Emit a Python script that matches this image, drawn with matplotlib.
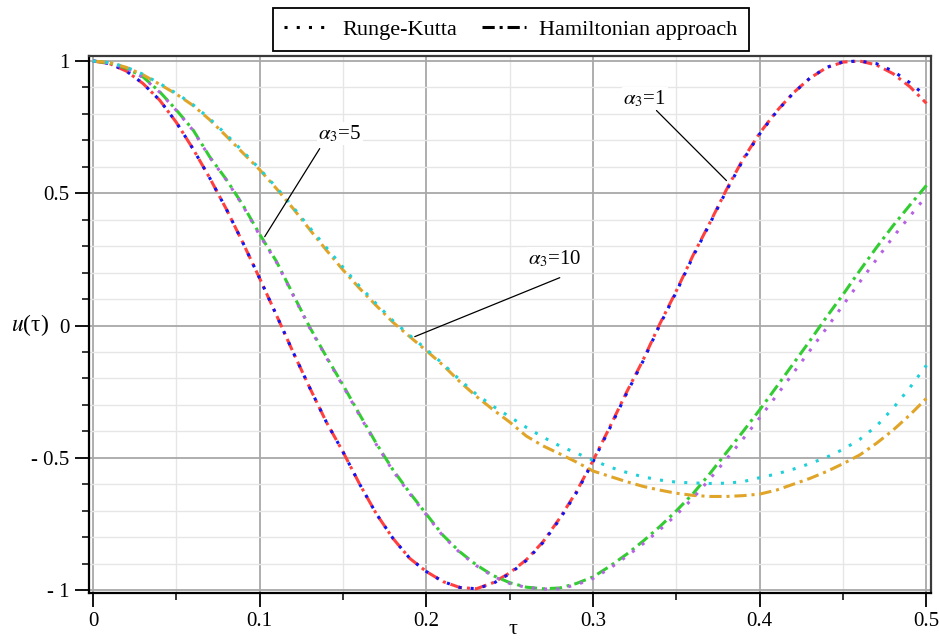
import numpy as np
import matplotlib
matplotlib.use('Agg')
import matplotlib.pyplot as plt
from matplotlib.lines import Line2D
from matplotlib.ticker import MultipleLocator

plt.rcParams['font.family'] = ['Liberation Serif', 'DejaVu Serif']
plt.rcParams['mathtext.fontset'] = 'stix'

# ── data ───────────────────────────────────────────────────────────────────────
TAU = [0.00, 0.01, 0.02, 0.03, 0.04, 0.05, 0.06, 0.07, 0.08, 0.09,
       0.10, 0.11, 0.12, 0.13, 0.14, 0.15, 0.16, 0.17, 0.18, 0.19,
       0.20, 0.21, 0.22, 0.23, 0.24, 0.25, 0.26, 0.27, 0.28, 0.29,
       0.30, 0.31, 0.32, 0.33, 0.34, 0.35, 0.36, 0.37, 0.38, 0.39,
       0.40, 0.41, 0.42, 0.43, 0.44, 0.45, 0.46, 0.47, 0.48, 0.49, 0.50]

# alpha3 = 1
HAM_A1 = [1.000, 0.990, 0.962, 0.915, 0.852, 0.768, 0.668, 0.558, 0.440, 0.312,
          0.178, 0.040, -0.100, -0.235, -0.365, -0.478, -0.600, -0.712, -0.805, -0.880,
          -0.930, -0.968, -0.990, -0.995, -0.972, -0.935, -0.885, -0.817, -0.728, -0.628,
          -0.510, -0.384, -0.253, -0.130, 0.006, 0.132, 0.266, 0.388, 0.514, 0.630,
          0.728, 0.810, 0.879, 0.935, 0.975, 0.996, 1.000, 0.985, 0.952, 0.903, 0.840]
RK_A1 = [1.000, 0.990, 0.962, 0.915, 0.852, 0.768, 0.668, 0.558, 0.440, 0.312,
         0.178, 0.040, -0.100, -0.235, -0.365, -0.478, -0.600, -0.712, -0.805, -0.880,
         -0.930, -0.968, -0.990, -0.995, -0.975, -0.938, -0.888, -0.820, -0.732, -0.632,
         -0.514, -0.388, -0.258, -0.134, 0.002, 0.128, 0.262, 0.385, 0.510, 0.626,
         0.725, 0.808, 0.878, 0.935, 0.976, 0.997, 1.000, 0.990, 0.962, 0.918, 0.866]

# alpha3 = 5
HAM_A5 = [1.000, 0.993, 0.973, 0.940, 0.884, 0.815, 0.740, 0.638, 0.552, 0.455,
          0.345, 0.243, 0.118, -0.006, -0.118, -0.225, -0.337, -0.446, -0.546, -0.632,
          -0.713, -0.793, -0.855, -0.905, -0.945, -0.972, -0.989, -0.995, -0.992, -0.975,
          -0.950, -0.910, -0.865, -0.815, -0.760, -0.700, -0.635, -0.560, -0.480, -0.400,
          -0.318, -0.232, -0.145, -0.058, 0.032, 0.118, 0.208, 0.295, 0.378, 0.455, 0.530]
RK_A5 = [1.000, 0.993, 0.972, 0.938, 0.882, 0.813, 0.738, 0.636, 0.550, 0.452,
         0.341, 0.240, 0.115, -0.009, -0.121, -0.229, -0.341, -0.450, -0.550, -0.636,
         -0.716, -0.796, -0.858, -0.908, -0.948, -0.975, -0.990, -0.996, -0.995, -0.980,
         -0.956, -0.918, -0.873, -0.825, -0.772, -0.715, -0.652, -0.580, -0.505, -0.428,
         -0.348, -0.265, -0.180, -0.095, -0.010, 0.078, 0.165, 0.250, 0.335, 0.413, 0.490]

# alpha3 = 10
HAM_A10 = [1.000, 0.994, 0.976, 0.948, 0.912, 0.875, 0.832, 0.778, 0.716, 0.652,
           0.589, 0.518, 0.443, 0.363, 0.285, 0.210, 0.140, 0.075, 0.012, -0.042,
           -0.095, -0.150, -0.212, -0.268, -0.318, -0.365, -0.418, -0.455, -0.485, -0.516,
           -0.550, -0.570, -0.590, -0.608, -0.622, -0.634, -0.642, -0.646, -0.646, -0.643,
           -0.637, -0.622, -0.600, -0.578, -0.552, -0.522, -0.489, -0.445, -0.395, -0.338,
           -0.275]
RK_A10 = [1.000, 0.994, 0.977, 0.950, 0.915, 0.878, 0.835, 0.782, 0.722, 0.658,
          0.592, 0.522, 0.448, 0.370, 0.295, 0.220, 0.148, 0.082, 0.018, -0.037,
          -0.090, -0.145, -0.205, -0.260, -0.305, -0.345, -0.385, -0.422, -0.455, -0.482,
          -0.509, -0.535, -0.555, -0.572, -0.584, -0.592, -0.595, -0.597, -0.596, -0.590,
          -0.575, -0.561, -0.543, -0.522, -0.498, -0.468, -0.430, -0.380, -0.312, -0.235,
          -0.150]

X_TICKS = [0, 0.1, 0.2, 0.3, 0.4, 0.5]
X_LABELS = ['0', '0.1', '0.2', '0.3', '0.4', '0.5']
Y_TICKS = [-1, -0.5, 0, 0.5, 1]
Y_LABELS = ['- 1', '- 0.5', '0', '0.5', '1']

DOT = (0, (1, 3))
DASHDOT = (0, (4, 1.6, 1, 1.6))

# ── plot ───────────────────────────────────────────────────────────────────────
fig = plt.figure(figsize=(9.39, 6.41), dpi=100)
ax = fig.add_axes([89 / 939, 48 / 641, 842 / 939, 537 / 641])

for ham, rk, c_ham, c_rk in [
    (HAM_A1, RK_A1, '#ff4040', '#1414f0'),
    (HAM_A5, RK_A5, '#33cc33', '#b563e3'),
    (HAM_A10, RK_A10, '#e0a528', '#1fd0d8'),
]:
    ax.plot(TAU, ham, color=c_ham, lw=2.2, ls=DASHDOT, zorder=3)
    ax.plot(TAU, rk, color=c_rk, lw=2.2, ls=DOT, zorder=4)

ax.set_xlim(-0.0024, 0.5027)
ax.set_ylim(-1.011, 1.019)
ax.set_xticks(X_TICKS)
ax.set_xticklabels(X_LABELS)
ax.set_yticks(Y_TICKS)
ax.set_yticklabels(Y_LABELS)
ax.xaxis.set_minor_locator(MultipleLocator(0.05))
ax.yaxis.set_minor_locator(MultipleLocator(0.1))
ax.tick_params(which='major', direction='out', length=10, width=1.3, labelsize=15, pad=4)
ax.tick_params(which='minor', direction='out', length=5, width=1.1)
ax.grid(which='major', color='#a8a8a8', lw=1.3)
ax.grid(which='minor', color='#e6e6e6', lw=1.0)
ax.set_axisbelow(True)

for side in ['left', 'bottom']:
    ax.spines[side].set_linewidth(1.6)
    ax.spines[side].set_color('black')
for side in ['top', 'right']:
    ax.spines[side].set_linewidth(1.6)
    ax.spines[side].set_color('#3a3a3a')

fig.text(11 / 939, 1 - 325 / 641, r'$u$(τ)', ha='left', va='center', fontsize=17)
fig.text(513 / 939, 1 - 629 / 641, 'τ', ha='center', va='center', fontsize=16)

# annotations
box = dict(facecolor='white', edgecolor='none', pad=1)
for label, txt_xy, start, end in [
    (r'$\alpha_3$=5', (0.148, 0.726), (0.136, 0.669), (0.103, 0.336)),
    (r'$\alpha_3$=1', (0.331, 0.858), (0.338, 0.813), (0.380, 0.548)),
    (r'$\alpha_3$=10', (0.277, 0.253), (0.280, 0.181), (0.193, -0.042)),
]:
    ax.annotate('', xy=end, xytext=start,
                arrowprops=dict(arrowstyle='-', color='black', lw=0.9,
                                shrinkA=0, shrinkB=0), zorder=5)
    ax.text(*txt_xy, label, ha='center', va='center', fontsize=15, bbox=box, zorder=6)

handles = [Line2D([], [], color='black', lw=2.2, ls=DOT),
           Line2D([], [], color='black', lw=2.2, ls=DASHDOT)]
leg = fig.legend(handles, ['Runge-Kutta', 'Hamiltonian approach'],
                 loc='upper center', bbox_to_anchor=(511 / 939, 1 - 8 / 641),
                 ncol=2, fancybox=False, edgecolor='black', framealpha=1,
                 fontsize=16, handlelength=2.0, handletextpad=0.6,
                 columnspacing=1.1, borderpad=0.5, borderaxespad=0)
leg.get_frame().set_linewidth(1.3)

plt.savefig('out.png', dpi=100)
